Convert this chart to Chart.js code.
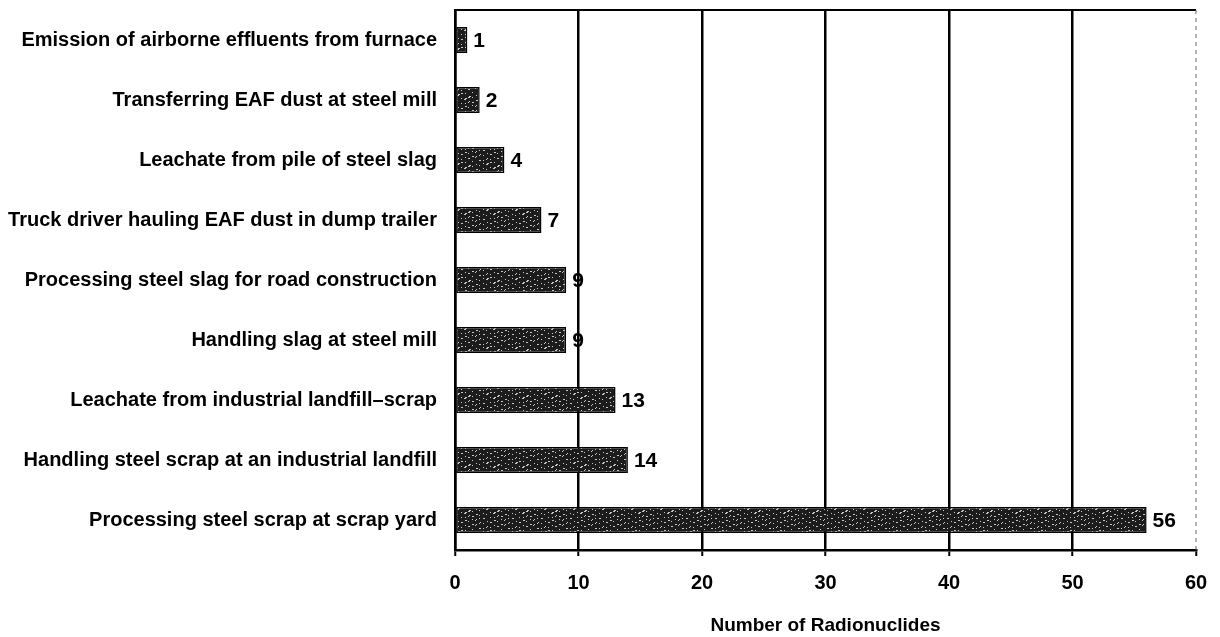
<!DOCTYPE html>
<html>
<head>
<meta charset="utf-8">
<script src="https://cdn.jsdelivr.net/npm/chart.js@4"></script>
<style>
  html, body { margin: 0; padding: 0; background: #fff; }
  #wrap { width: 1220px; height: 637px; }
</style>
</head>
<body>
<div id="wrap"><canvas id="radChart" width="1220" height="637"></canvas></div>
<script>
const pathways = [
    'Emission of airborne effluents from furnace',
    'Transferring EAF dust at steel mill',
    'Leachate from pile of steel slag',
    'Truck driver hauling EAF dust in dump trailer',
    'Processing steel slag for road construction',
    'Handling slag at steel mill',
    'Leachate from industrial landfill\u2013scrap',
    'Handling steel scrap at an industrial landfill',
    'Processing steel scrap at scrap yard'
];
const radionuclideCounts = [1, 2, 4, 7, 9, 9, 13, 14, 56];
const xTicks = [0, 10, 20, 30, 40, 50, 60];
const xTitle = 'Number of Radionuclides';

// speckled dark fill, like the scanned bars
const makeSpeckle = () => {
    const tile = document.createElement('canvas');
    tile.width = 29;
    tile.height = 23;
    const t = tile.getContext('2d');
    t.fillStyle = '#1c1c1c';
    t.fillRect(0, 0, tile.width, tile.height);
    t.fillStyle = '#c8c8c8';
    for (let i = 0; i < 45; i++) {
        const x = (i * 37 + (i % 5) * 3) % tile.width;
        const y = (i * 53 + 7) % tile.height;
        t.fillRect(x, y, (i % 3) ? 1 : 2, 1);
    }
    return t.createPattern(tile, 'repeat');
};

const valueLabels = {
    id: 'valueLabels',
    afterDatasetsDraw(chart) {
        const ctx = chart.ctx;
        const meta = chart.getDatasetMeta(0);
        ctx.save();
        ctx.fillStyle = '#000';
        ctx.font = 'bold 21px "Liberation Sans", Arial, sans-serif';
        ctx.textAlign = 'left';
        ctx.textBaseline = 'middle';
        meta.data.forEach((bar, i) => {
            ctx.fillText(String(radionuclideCounts[i]), bar.x + 6, bar.y + 1);
        });
        ctx.restore();
    }
};

const frame = {
    id: 'frame',
    beforeDatasetsDraw(chart) {
        const { ctx, chartArea: a } = chart;
        ctx.save();
        ctx.strokeStyle = '#000';
        ctx.lineWidth = 2;
        ctx.beginPath();
        ctx.moveTo(a.left, a.top);
        ctx.lineTo(a.right, a.top);
        ctx.stroke();
        ctx.strokeStyle = '#666';
        ctx.lineWidth = 1;
        ctx.setLineDash([4, 4]);
        ctx.beginPath();
        ctx.moveTo(a.right, a.top);
        ctx.lineTo(a.right, a.bottom);
        ctx.stroke();
        ctx.restore();
    }
};

const ctx = document.getElementById('radChart').getContext('2d');
const speckle = makeSpeckle();

new Chart(ctx, {
    type: 'bar',
    data: {
        labels: pathways,
        datasets: [{
            data: radionuclideCounts,
            backgroundColor: speckle,
            borderColor: '#000',
            borderWidth: 1.5,
            borderSkipped: false,
            categoryPercentage: 1,
            barPercentage: 0.43
        }]
    },
    options: {
        indexAxis: 'y',
        responsive: false,
        animation: false,
        layout: { padding: { left: 0, right: 24, top: 10, bottom: 0 } },
        plugins: {
            legend: { display: false },
            tooltip: { enabled: false }
        },
        scales: {
            x: {
                min: xTicks[0],
                max: xTicks[xTicks.length - 1],
                afterBuildTicks: scale => {
                    scale.ticks = xTicks.map(v => ({ value: v }));
                },
                afterFit: scale => {
                    scale.height = 87;
                    scale.paddingRight = 0;
                    scale.paddingLeft = 0;
                },
                grid: {
                    color: ctx => ctx.tick && ctx.tick.value === 60 ? 'rgba(0,0,0,0)' : '#000',
                    lineWidth: 2.5,
                    tickLength: 6,
                    tickColor: '#000',
                    tickWidth: 2
                },
                border: { color: '#000', width: 2.5 },
                ticks: {
                    color: '#000',
                    padding: 15,
                    font: { family: '"Liberation Sans", Arial, sans-serif', size: 20, weight: 'bold' }
                },
                title: {
                    display: true,
                    text: xTitle,
                    color: '#000',
                    padding: { top: 12, bottom: 0 },
                    font: { family: '"Liberation Sans", Arial, sans-serif', size: 19, weight: 'bold' }
                }
            },
            y: {
                afterFit: scale => {
                    scale.width = 455;
                    scale.paddingTop = 0;
                    scale.paddingBottom = 0;
                },
                grid: { display: false, drawTicks: false },
                border: { color: '#000', width: 2.5 },
                ticks: {
                    color: '#000',
                    padding: 18,
                    font: { family: '"Liberation Sans", Arial, sans-serif', size: 20, weight: 'bold' }
                }
            }
        }
    },
    plugins: [frame, valueLabels]
});
</script>
</body>
</html>
